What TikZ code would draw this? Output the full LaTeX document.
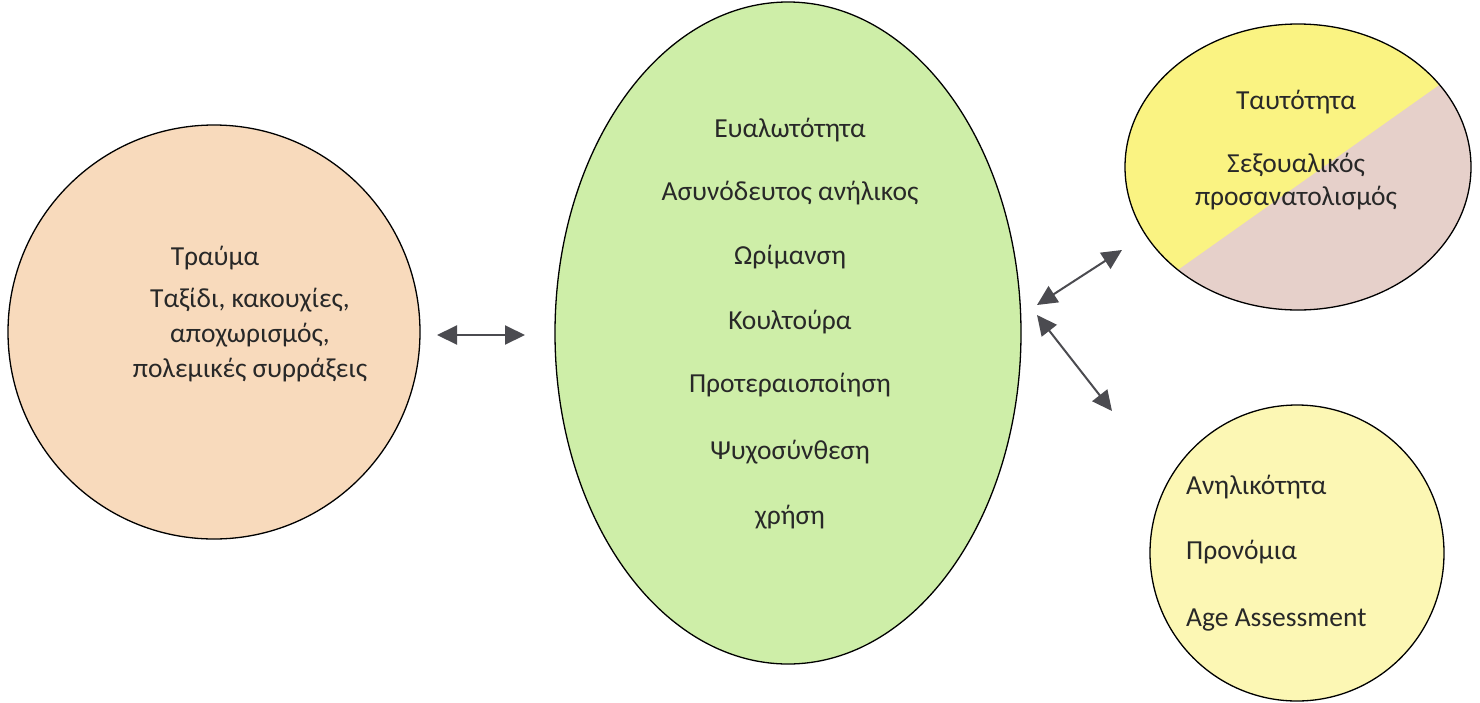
\documentclass[tikz,border=0pt]{standalone}
\usepackage{fontspec}
\setmainfont{Carlito}
\usetikzlibrary{shapes.geometric,arrows.meta}
\definecolor{orangefill}{RGB}{248,218,188}
\definecolor{greenfill}{RGB}{206,238,168}
\definecolor{yellowfill}{RGB}{250,243,130}
\definecolor{brownfill}{RGB}{230,208,202}
\definecolor{paleyellow}{RGB}{252,247,180}
\definecolor{txt}{RGB}{40,40,40}
\definecolor{arr}{RGB}{75,75,80}
\begin{document}
\begin{tikzpicture}[x=1pt,y=-1pt,
  blob/.style={draw=black, line width=1.3pt, ellipse, inner sep=0pt},
  lbl/.style={text=txt, font=\fontsize{27.5}{33}\selectfont, inner sep=0pt},
  link/.style={arr, line width=2pt, {Triangle[length=20pt,width=19pt]}-{Triangle[length=20pt,width=19pt]}}]
\useasboundingbox (0,0) rectangle (1480,702);
% left circle
\node[blob, fill=orangefill, minimum width=412pt, minimum height=414pt] (trauma) at (214,332) {};
% middle ellipse
\node[blob, fill=greenfill, minimum width=466pt, minimum height=662pt] (center) at (788,333) {};
% top right split circle
\begin{scope}
\clip (1298,167) ellipse [x radius=173, y radius=143];
\fill[brownfill] (1100,0) rectangle (1480,330);
\fill[yellowfill] (1100,0) -- (1480,0) -- (1480,56) -- (1100,325) -- cycle;
\end{scope}
\node[blob, minimum width=346pt, minimum height=286pt] (identity) at (1298,167) {};
% bottom right circle
\node[blob, fill=paleyellow, minimum width=294pt, minimum height=296pt] (minor) at (1297,553) {};
% texts
\node[lbl] (t1) at (215,258) {Τραύμα};
\node[lbl, align=center] (t2) at (250,335) {Ταξίδι, κακουχίες,\\[2pt]αποχωρισμός,\\[2pt]πολεμικές συρράξεις};
\node[lbl] (c1) at (790,130) {Ευαλωτότητα};
\node[lbl] (c2) at (790,193) {Ασυνόδευτος ανήλικος};
\node[lbl] (c3) at (790,257) {Ωρίμανση};
\node[lbl] (c4) at (790,322) {Κουλτούρα};
\node[lbl] (c5) at (790,385) {Προτεραιοποίηση};
\node[lbl] (c6) at (790,452) {Ψυχοσύνθεση};
\node[lbl] (c7) at (790,517) {χρήση};
\node[lbl] (i1) at (1296,102) {Ταυτότητα};
\node[lbl, align=center] (i2) at (1296,182) {Σεξουαλικός\\προσανατολισμός};
\node[lbl, anchor=west] (m1) at (1186,487) {Ανηλικότητα};
\node[lbl, anchor=west] (m2) at (1186,552) {Προνόμια};
\node[lbl, anchor=west] (m3) at (1186,620) {Age Assessment};
% arrows
\coordinate (a1) at (437,335);
\coordinate (a2) at (525,335);
\coordinate (b0) at (1037,305);
\coordinate (b1) at (1122,250);
\coordinate (b2) at (1037,315);
\coordinate (b3) at (1112,411);
\draw[link] (a1) -- (a2);
\draw[link] (b0) -- (b1);
\draw[link] (b2) -- (b3);
\end{tikzpicture}
\end{document}
